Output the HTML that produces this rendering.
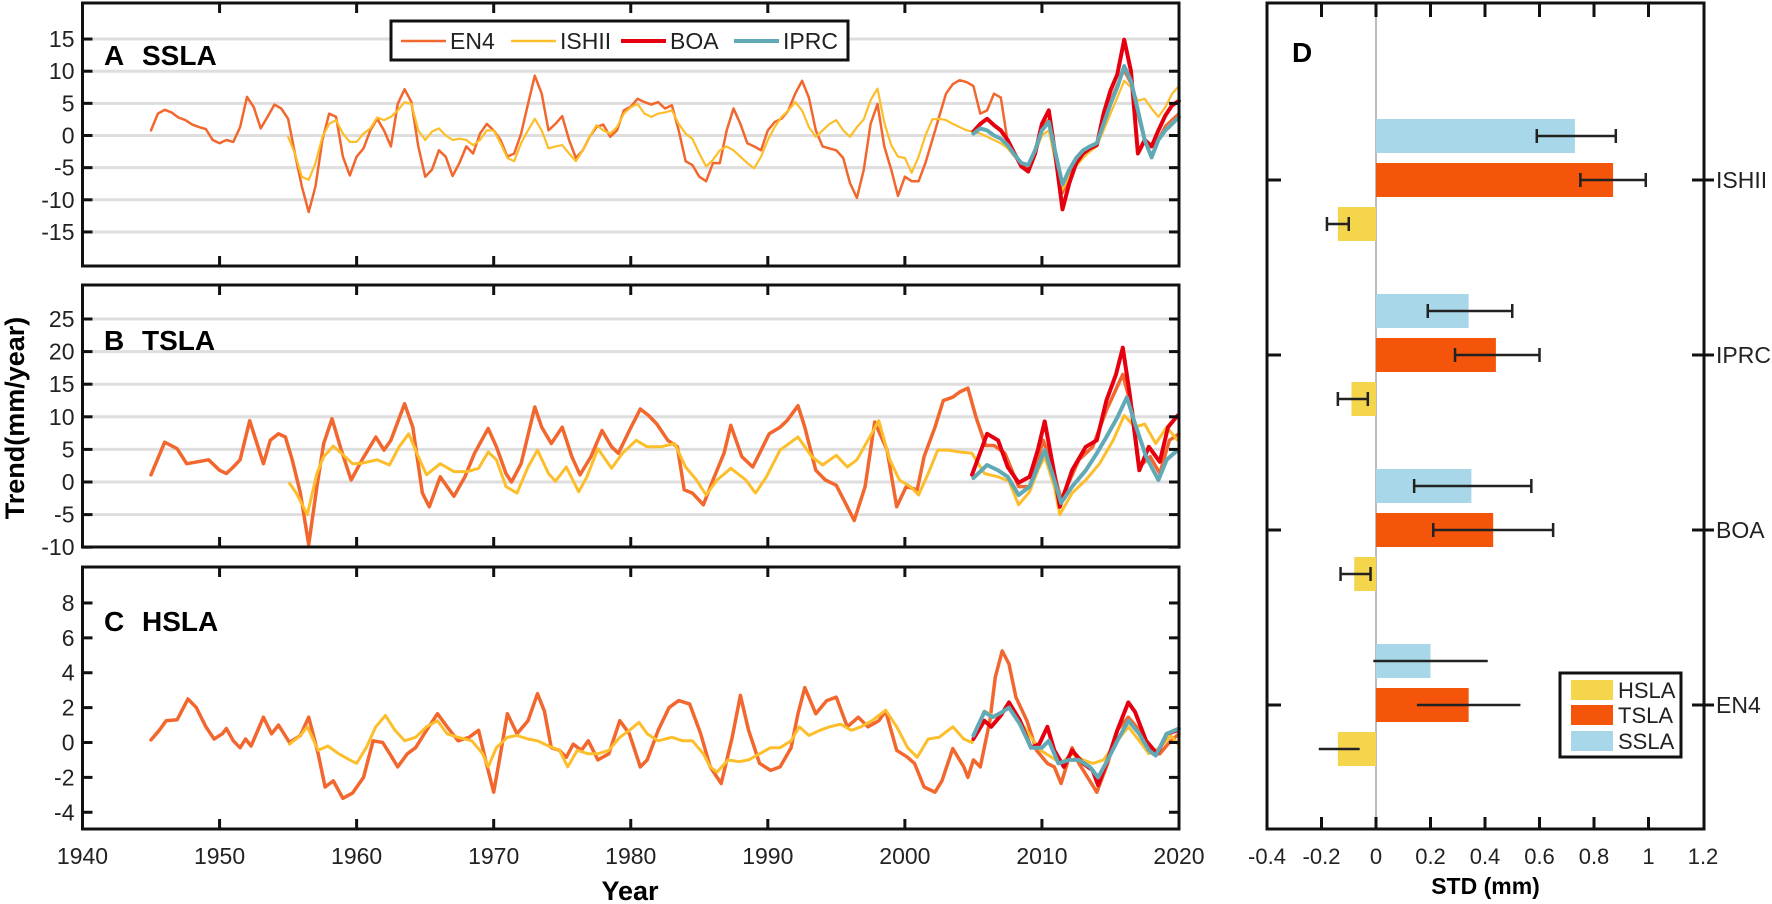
<!DOCTYPE html>
<html><head><meta charset="utf-8"><style>
html,body{margin:0;padding:0;background:#fff}
svg{display:block;font-family:"Liberation Sans",Arial,sans-serif}
</style></head><body>
<svg id="fig" width="1772" height="904" viewBox="0 0 1772 904" xmlns="http://www.w3.org/2000/svg">
<g id="grid"></g><g id="lines"></g><g id="axes"></g><g id="bars"></g>
</svg>
<script>
// ---------- Panel A (SSLA) data, half-year spacing ----------
const aEn4Start = 1945, aIshStart = 1955, aRecStart = 2005, halfStep = 0.5;
const aEN4 = [0.8,3.4,4,3.6,2.8,2.4,1.7,1.3,1,-0.7,-1.2,-0.7,-1,1.3,6,4.4,1.1,2.9,4.8,4.2,2.6,-2.8,-7.9,-11.9,-7.9,-0.7,3.4,2.9,-3.3,-6.2,-3.3,-2,0.8,2.6,0.8,-1.7,4.9,7.2,5.2,-1.7,-6.4,-5.3,-2.3,-3.3,-6.3,-4.3,-1.7,-2.8,0.3,1.8,0.8,-0.7,-3.3,-2.8,0.3,4.9,9.3,6.5,0.8,1.8,3,-0.7,-3.5,-2.3,-0.2,1.3,1.7,-0.2,0.8,3.9,4.5,5.7,5.2,4.8,5.2,4.2,4.7,0.8,-4,-4.6,-6.4,-7.1,-4.3,-4.3,0.8,4.2,1.8,-1.2,-1.7,-2.3,0.8,2.1,2.6,3.9,6.5,8.5,5.9,0.8,-1.7,-2,-2.3,-3.5,-7.4,-9.7,-5.3,1.8,4.9,-1.7,-5.3,-9.4,-6.4,-7.1,-7.1,-4.3,-0.7,2.9,6.5,8,8.6,8.3,7.7,3.4,3.9,6.5,5.9,-1,-3,-4.5,-5,-2.5,1.5,2.5,-3,-9,-6.5,-4,-2.5,-1.8,-1.2,2,5.5,8,10,8,3,-1,-3,-0.5,1.5,2.5,3.5];
const aISHII = [-0.2,-2.8,-6.4,-6.9,-4.3,-0.2,1.8,2.4,0.3,-1,-1,0.3,1.1,2.8,2.4,2.9,3.9,5.2,4.9,0.8,-0.7,0.6,1.1,0,-0.7,-0.5,-0.7,-1.5,-0.7,0.8,0.8,-1.2,-3.5,-4,-1.2,0.8,2.6,0.8,-2,-1.7,-1.5,-2.8,-4,-2.3,-0.2,1.6,0.8,0.3,1.3,3.4,4.4,4.9,3.4,2.9,3.4,3.6,3.9,1.8,0.3,-0.5,-2.8,-4.8,-3.8,-2.3,-1.7,-2.3,-3.3,-4.3,-5.1,-3.3,-0.7,1.3,2.9,3.9,5.2,3.9,1.3,-0.2,0.8,1.8,2.4,0.8,-0.2,1.3,2.5,5.5,7.3,2,-1.5,-3.3,-3.5,-5.8,-3.3,0,2.5,2.6,2.4,1.8,1.3,0.8,0.6,0.3,-0.2,-0.7,-1.2,-2,-3.3,-4.3,-4.6,-2.8,0,0.8,-4.3,-8.4,-6.4,-4.8,-3.5,-2.5,-1.7,0.8,3.4,5.9,8.5,7.5,5.4,5.7,4.2,2.9,4.4,6.5,7.7];
const aBOA = [0.6,1.8,2.6,1.6,0.8,-0.7,-2.8,-4.8,-5.6,-2.8,1.8,3.9,-3.3,-11.5,-7.4,-4.3,-2.8,-2,-1.5,3.4,7,9.5,14.9,10,-2.8,-0.7,-1.7,0.8,3.1,4.7,5.4];
const aIPRC = [0.3,1.1,0.8,0,-0.5,-1.5,-3,-4.3,-4.6,-2.3,0.8,2.1,-2.8,-7.6,-5.3,-3.5,-2.3,-1.7,-1.2,1.8,4.9,7.5,10.8,8.5,3.9,-0.7,-3.4,-0.7,0.8,1.8,2.9];

// ---------- Panel B (TSLA) data ----------
const bEN4Years = [1945.0,1946.0,1946.9,1947.6,1948.4,1949.2,1950.0,1950.5,1951.0,1951.5,1952.2,1953.2,1953.7,1954.3,1954.8,1955.3,1955.9,1956.5,1957.1,1957.6,1958.2,1958.9,1959.6,1960.4,1961.4,1962.0,1962.5,1963.5,1964.1,1964.8,1965.3,1966.1,1967.1,1967.9,1968.6,1969.6,1970.2,1970.9,1971.3,1972.0,1973.0,1973.5,1974.2,1975.0,1975.7,1976.3,1977.1,1977.9,1978.6,1979.1,1979.9,1980.7,1981.3,1981.9,1982.7,1983.4,1983.9,1984.5,1985.3,1986.0,1986.8,1987.3,1988.1,1988.9,1989.4,1990.1,1990.9,1991.4,1992.2,1992.7,1993.5,1994.2,1995.0,1995.8,1996.3,1997.1,1997.8,1998.7,1999.4,2000.1,2000.9,2001.4,2002.2,2002.8,2003.5,2004.0,2004.6,2005.2,2005.9,2006.5,2007.3,2008.3,2009.1,2010.1,2010.9,2011.4,2012.7,2013.7,2014.7,2015.9,2016.6,2017.1,2017.9,2018.6,2019.3,2020.0];
const bEN4 = [1.1,6.1,5.1,2.8,3.1,3.4,1.8,1.3,2.3,3.4,9.4,2.8,6.4,7.4,6.9,3.4,-1.7,-9.6,-0.7,5.9,9.7,4.8,0.3,3.4,6.9,4.9,6.4,12,8.4,-1.7,-3.8,0.8,-2.2,0.8,4.4,8.2,5.4,1.3,0,2.8,11.5,8.4,5.9,8.4,3.9,1.1,3.9,7.9,5.4,4.4,7.9,11.2,10.2,8.9,6.4,5.4,-1.2,-1.7,-3.5,0.3,4.4,8.7,3.9,2.3,4.4,7.4,8.4,9.4,11.7,8.4,1.8,0.3,-0.5,-3.8,-5.9,-0.7,9.2,4.9,-3.8,-0.7,-1.2,3.9,8.4,12.5,13,13.8,14.4,9.9,5.6,5.6,4.4,-0.7,-0.7,6.4,1.3,-2.7,3.4,5.4,11,16.5,11,2.3,3.9,1.3,6.4,7.4];
const bISHIIYears = [1955.1,1955.6,1956.4,1957.1,1957.6,1958.3,1958.9,1959.7,1960.4,1961.5,1962.4,1963.1,1963.8,1964.4,1965.1,1966.1,1967.1,1968.1,1968.9,1969.6,1970.2,1970.9,1971.7,1972.5,1973.2,1974.0,1974.5,1975.3,1976.2,1976.8,1977.6,1978.6,1979.4,1980.4,1981.2,1982.2,1983.2,1984.0,1984.8,1985.5,1986.3,1987.3,1988.4,1989.1,1989.9,1990.9,1992.2,1993.2,1994.0,1995.0,1995.8,1996.5,1997.3,1998.1,1998.9,1999.6,2000.4,2001.0,2001.7,2002.4,2003.2,2004.0,2004.9,2005.8,2006.8,2007.6,2008.3,2009.1,2009.7,2010.2,2010.9,2011.3,2012.2,2013.2,2014.2,2015.2,2016.0,2016.8,2017.5,2018.3,2019.1,2019.9];
const bISHII = [-0.2,-1.7,-5,1.3,3.9,5.5,4.4,2.8,2.9,3.4,2.6,5.4,7.4,4.4,1.1,2.8,1.6,1.6,2.1,4.6,3.4,-0.7,-1.7,2.3,4.9,1.3,0.1,2.3,-1.5,0.8,5.1,2.1,4.4,6.4,5.4,5.4,5.9,2.3,0.3,-2,0.3,2.1,0.3,-1.7,0.8,4.9,6.9,3.9,2.6,4.1,2.3,3.4,6.4,9.4,3.4,0.3,-0.7,-2,1.3,4.9,4.9,4.6,4.4,1.3,0.8,0.1,-3.5,-1.5,1.8,3.9,-0.7,-5,-1.7,0.3,2.8,6.4,10.2,8.4,8.9,5.9,8.4,6.4];
const bBOAYears = [2004.9,2006.0,2006.8,2007.5,2008.3,2009.1,2009.7,2010.2,2010.9,2011.3,2012.2,2013.2,2014.0,2014.7,2015.4,2015.9,2016.4,2017.1,2017.8,2018.6,2019.2,2019.9];
const bBOA = [1.1,7.4,6.4,2.3,-0.1,0.8,4.9,9.3,1.3,-3.8,1.8,5.4,6.4,12.5,16.5,20.6,13.5,1.8,5.4,3.1,8.4,10.2];
const bIPRCYears = [2005.0,2006.0,2006.8,2007.5,2008.3,2009.1,2009.7,2010.2,2010.9,2011.4,2012.2,2013.2,2014.0,2014.7,2015.5,2016.2,2016.8,2017.6,2018.5,2019.1,2019.9];
const bIPRC = [0.6,2.6,1.8,0.8,-2,-0.7,2.3,4.9,0.3,-3.2,-0.7,1.8,4.4,6.9,9.9,13,8.9,3.9,0.3,3.4,4.9];

// ---------- Panel C (HSLA) data ----------
const cEN4Years = [1945.0,1945.6,1946.1,1946.9,1947.7,1948.3,1949.0,1949.6,1950.2,1950.5,1951.0,1951.5,1951.9,1952.3,1953.2,1953.8,1954.3,1955.1,1955.9,1956.5,1957.2,1957.7,1958.3,1959.0,1959.7,1960.5,1961.2,1961.9,1962.5,1963.0,1963.7,1964.3,1965.1,1965.9,1966.6,1967.4,1968.2,1968.9,1969.4,1970.0,1970.5,1971.0,1971.7,1972.5,1973.2,1973.7,1974.2,1974.8,1975.3,1975.8,1976.4,1976.9,1977.6,1978.4,1979.2,1979.9,1980.7,1981.2,1982.0,1982.8,1983.5,1984.3,1985.1,1985.8,1986.6,1987.4,1988.0,1988.6,1989.4,1990.2,1990.9,1991.7,1992.2,1992.7,1993.5,1994.3,1995.0,1995.8,1996.6,1997.3,1998.1,1998.6,1999.4,2000.2,2000.7,2001.4,2002.2,2002.7,2003.5,2004.3,2004.6,2005.0,2005.5,2006.2,2006.6,2007.1,2007.6,2008.1,2008.9,2009.6,2010.4,2010.9,2011.4,2012.2,2012.7,2013.5,2014.0,2014.8,2015.5,2016.3,2017.1,2017.8,2018.6,2019.4,2020.0];
const cEN4 = [0.15,0.7,1.25,1.3,2.5,2.0,0.9,0.2,0.5,0.8,0.1,-0.3,0.2,-0.2,1.45,0.5,1.0,0,0.4,1.45,-0.65,-2.55,-2.2,-3.2,-2.9,-2.0,0.1,0,-0.75,-1.4,-0.65,-0.3,0.7,1.65,0.9,0.1,0.3,0.7,-1.0,-2.85,-0.65,1.65,0.5,1.25,2.8,1.8,-0.3,-0.45,-0.85,-0.1,-0.45,0.1,-1.0,-0.65,1.25,0.5,-1.4,-1.0,0.7,2.0,2.4,2.2,0.5,-1.4,-2.35,0.3,2.7,0.7,-1.2,-1.6,-1.4,-0.3,1.65,3.15,1.65,2.4,2.6,0.9,1.45,0.9,1.25,1.8,-0.45,-0.85,-1.2,-2.55,-2.85,-2.2,-0.35,-1.4,-2.0,-1.0,-1.4,1.25,3.75,5.25,4.5,2.6,1.25,-0.45,-1.2,-1.4,-2.35,-0.3,-1.2,-2.2,-2.85,-1.2,0.7,1.45,0.7,-0.45,-0.65,0.1,0.5];
const cISHIIYears = [1955.1,1955.9,1956.4,1957.2,1957.9,1958.7,1959.5,1960.0,1960.7,1961.4,1962.1,1962.8,1963.5,1964.3,1965.1,1965.9,1966.6,1967.4,1968.4,1969.2,1969.6,1970.2,1971.0,1971.7,1972.5,1973.2,1974.0,1974.8,1975.4,1976.1,1976.9,1977.6,1978.4,1979.2,1979.9,1980.6,1981.2,1982.0,1983.0,1983.8,1984.5,1985.3,1985.8,1986.3,1987.1,1987.9,1988.6,1989.4,1990.2,1990.9,1991.7,1992.3,1993.0,1993.8,1994.5,1995.3,1996.1,1996.8,1997.6,1998.6,1999.4,2000.2,2000.9,2001.7,2002.5,2003.5,2004.3,2004.9,2005.8,2006.6,2007.6,2008.4,2009.2,2009.9,2010.7,2011.4,2012.2,2013.0,2013.7,2014.5,2015.5,2016.3,2017.1,2017.8,2018.6,2019.4,2020.0];
const cISHII = [-0.1,0.4,0.9,-0.45,-0.2,-0.65,-1.0,-1.2,-0.3,0.9,1.55,0.7,0.1,0.3,0.9,1.25,0.5,0.3,0.1,-0.65,-1.4,-0.3,0.3,0.4,0.2,0.1,-0.2,-0.45,-1.4,-0.45,-0.65,-0.65,-0.45,0.3,0.7,1.15,0.5,0.1,0.3,0.1,0.1,-0.65,-1.4,-1.7,-1.0,-1.1,-1.0,-0.65,-0.3,-0.3,0.1,0.9,0.4,0.7,0.9,1.05,0.7,0.9,1.25,1.85,0.9,-0.3,-0.85,0.2,0.3,0.9,0.2,0,1.8,1.45,2.0,1.25,0.3,-0.45,-0.85,-1.2,-0.65,-1.0,-1.2,-1.0,0.1,0.9,0.1,-0.65,-0.3,0.4,-0.15];
const cBOAYears = [2005.0,2005.8,2006.3,2007.0,2007.6,2008.4,2009.2,2009.8,2010.4,2010.9,2011.6,2012.2,2013.0,2013.7,2014.1,2014.8,2015.5,2016.3,2016.8,2017.6,2018.4,2019.1,2019.9];
const cBOA = [0.2,1.25,0.9,1.55,2.3,1.25,-0.3,-0.1,0.9,-0.45,-1.4,-0.45,-1.2,-1.6,-2.45,-1.0,0.7,2.3,1.75,0.1,-0.65,0.5,0.7];
const cIPRCYears = [2005.0,2005.8,2006.4,2007.1,2007.6,2008.4,2009.2,2010.0,2010.5,2011.2,2012.0,2012.7,2013.5,2014.1,2014.8,2015.5,2016.3,2017.1,2017.8,2018.3,2019.1,2020.0];
const cIPRC = [0.4,1.75,1.45,1.75,2.0,1.05,-0.3,-0.3,0.1,-1.2,-1.0,-1.0,-1.4,-2.0,-1.0,0.1,1.25,0.5,-0.45,-0.75,0.5,0.8];

// ---------- Panel D data ----------
const dCategories = ['ISHII','IPRC','BOA','EN4'];
const dSSLA = [0.73,0.34,0.35,0.20];
const dSSLAlo = [0.59,0.19,0.14,-0.01];
const dSSLAhi = [0.88,0.50,0.57,0.41];
const dTSLA = [0.87,0.44,0.43,0.34];
const dTSLAlo = [0.75,0.29,0.21,0.15];
const dTSLAhi = [0.99,0.60,0.65,0.53];
const dHSLA = [-0.14,-0.09,-0.08,-0.14];
const dHSLAlo = [-0.18,-0.14,-0.13,-0.21];
const dHSLAhi = [-0.10,-0.03,-0.02,-0.06];
const dTicks = [-0.4,-0.2,0,0.2,0.4,0.6,0.8,1,1.2];
const dTickLabels = ['-0.4','-0.2','0','0.2','0.4','0.6','0.8','1','1.2'];
const yearTicks = [1940,1950,1960,1970,1980,1990,2000,2010,2020];

const NS='http://www.w3.org/2000/svg';
function mk(tag, attrs, parent){const e=document.createElementNS(NS,tag);for(const k in attrs)e.setAttribute(k,attrs[k]);(parent||document.getElementById('axes')).appendChild(e);return e;}
const X0=82.5, X1=1179;
const xYear = y => X0 + (y-1940)*(X1-X0)/80;
const panels = {
  A:{top:3,bottom:266,y0:135.5,k:6.43,ticks:[15,10,5,0,-5,-10,-15],grid:true,label:'A',title:'SSLA',ly:55},
  B:{top:285,bottom:547,y0:482,k:6.52,ticks:[25,20,15,10,5,0,-5,-10],grid:true,label:'B',title:'TSLA',ly:340},
  C:{top:567,bottom:829,y0:742.5,k:17.44,ticks:[8,6,4,2,0,-2,-4],grid:false,label:'C',title:'HSLA',ly:621}
};
const COL={EN4:'#F2672E',ISHII:'#FDBE2C',BOA:'#E6000F',IPRC:'#62A9B6'};
const grid=document.getElementById('grid'), lines=document.getElementById('lines'), axes=document.getElementById('axes'), bars=document.getElementById('bars');

for(const key in panels){
  const p=panels[key]; const yv=v=>p.y0-v*p.k;
  if(p.grid){ p.ticks.forEach(t=>{ const yy=yv(t); if(yy>p.top+3&&yy<p.bottom-3){ const g=mk('line',{x1:X0,x2:X1,y1:yy,y2:yy,stroke:'#dedede','stroke-width':3},grid);
    
     } }); }
  const fr=mk('rect',{x:X0,y:p.top,width:X1-X0,height:p.bottom-p.top,fill:'none',stroke:'#111','stroke-width':3});
  
  
  p.ticks.forEach(t=>{ const yy=yv(t);
    mk('line',{x1:X0,x2:X0+10,y1:yy,y2:yy,stroke:'#111','stroke-width':3});
    mk('line',{x1:X1-10,x2:X1,y1:yy,y2:yy,stroke:'#111','stroke-width':3});
    const tl=mk('text',{x:X0-8,y:yy+8,'text-anchor':'end','font-size':23,fill:'#222'}); tl.textContent=t;
    
    
  });
  yearTicks.forEach(yr=>{ const xx=xYear(yr); if(yr===1940||yr===2020) return;
    mk('line',{x1:xx,x2:xx,y1:p.bottom-10,y2:p.bottom,stroke:'#111','stroke-width':3});
    mk('line',{x1:xx,x2:xx,y1:p.top,y2:p.top+10,stroke:'#111','stroke-width':3});
  });
  const lab=mk('text',{x:104,y:p.ly+10,'font-size':28,'font-weight':'bold',fill:'#000'}); lab.textContent=p.label;
  
  
  const tt=mk('text',{x:142,y:p.ly+10,'font-size':28,'font-weight':'bold',fill:'#000'}); tt.textContent=p.title;
  
  
}
function seriesLine(panel, years, vals, color, w, name){
  const p=panels[panel];
  const pts=vals.map((v,i)=>xYear(years[i]).toFixed(1)+','+(p.y0-v*p.k).toFixed(1)).join(' ');
  const pl=mk('polyline',{points:pts,fill:'none',stroke:color,'stroke-width':w,'stroke-linejoin':'round','stroke-linecap':'round'},lines);
  
  
}
const gridYears=(start,n)=>Array.from({length:n},(_,i)=>start+i*halfStep);
seriesLine('A',gridYears(aEn4Start,aEN4.length),aEN4,COL.EN4,2.5,'line-ssla-en4');
seriesLine('A',gridYears(aIshStart,aISHII.length),aISHII,COL.ISHII,2.2,'line-ssla-ishii');
seriesLine('A',gridYears(aRecStart,aBOA.length),aBOA,COL.BOA,4,'line-ssla-boa');
seriesLine('A',gridYears(aRecStart,aIPRC.length),aIPRC,COL.IPRC,4,'line-ssla-iprc');
seriesLine('B',bEN4Years,bEN4,COL.EN4,3.5,'line-tsla-en4');
seriesLine('B',bISHIIYears,bISHII,COL.ISHII,3,'line-tsla-ishii');
seriesLine('B',bBOAYears,bBOA,COL.BOA,4,'line-tsla-boa');
seriesLine('B',bIPRCYears,bIPRC,COL.IPRC,4,'line-tsla-iprc');
seriesLine('C',cEN4Years,cEN4,COL.EN4,3.5,'line-hsla-en4');
seriesLine('C',cISHIIYears,cISHII,COL.ISHII,3,'line-hsla-ishii');
seriesLine('C',cBOAYears,cBOA,COL.BOA,4,'line-hsla-boa');
seriesLine('C',cIPRCYears,cIPRC,COL.IPRC,4,'line-hsla-iprc');

yearTicks.forEach(yr=>{ const t=mk('text',{x:xYear(yr),y:864,'text-anchor':'middle','font-size':23,fill:'#222'}); t.textContent=yr;
  
   });
const xt=mk('text',{x:630,y:900,'text-anchor':'middle','font-size':27,'font-weight':'bold'}); xt.textContent='Year';


const yt=mk('text',{x:0,y:0,'text-anchor':'middle','font-size':27,'font-weight':'bold',transform:'translate(24,418) rotate(-90)'}); yt.textContent='Trend(mm/year)';



// legend A
const lg=mk('g',{});


mk('rect',{x:391,y:21,width:457,height:39,fill:'#fff',stroke:'#111','stroke-width':3},lg);
[['EN4',401,COL.EN4,2.5],['ISHII',511,COL.ISHII,2.5],['BOA',621,COL.BOA,4],['IPRC',734,COL.IPRC,4]].forEach(e=>{
  const ge=mk('g',{},lg);
  
  
  mk('line',{x1:e[1],x2:e[1]+45,y1:41,y2:41,stroke:e[2],'stroke-width':e[3]},ge);
  const t=mk('text',{x:e[1]+49,y:49,'font-size':23,fill:'#222'},ge); t.textContent=e[0];
});

// ---------- Panel D ----------
const DL=1267, DR=1704, DT=3, DB=829;
const xD=v=>1376+v*272.5;
const catY=i=>180+i*175;
const zl=mk('line',{x1:xD(0),x2:xD(0),y1:DT,y2:DB,stroke:'#777','stroke-width':1},bars);


const groups=[['ssla',dSSLA,dSSLAlo,dSSLAhi,'#A7D7E8',-44],['tsla',dTSLA,dTSLAlo,dTSLAhi,'#F4550B',0],['hsla',dHSLA,dHSLAlo,dHSLAhi,'#F4D54C',44]];
dCategories.forEach((c,i)=>{
  groups.forEach(g=>{
    const v=g[1][i], yc=catY(i)+g[5];
    const r=mk('rect',{x:Math.min(xD(0),xD(v)),y:yc-17,width:Math.abs(xD(v)-xD(0)),height:34,fill:g[4]},bars);
    
    
    const e=mk('line',{x1:xD(g[2][i]),x2:xD(g[3][i]),y1:yc,y2:yc,stroke:'#222','stroke-width':2.5},bars);
    
    
    if(i<3){ [g[2][i],g[3][i]].forEach(ev=>mk('line',{x1:xD(ev),x2:xD(ev),y1:yc-7,y2:yc+7,stroke:'#222','stroke-width':2.5},bars)); }
  });
  mk('line',{x1:DL,x2:DL+14,y1:catY(i),y2:catY(i),stroke:'#111','stroke-width':3},bars);
  mk('line',{x1:DR-12,x2:DR+10,y1:catY(i),y2:catY(i),stroke:'#111','stroke-width':3},bars);
  const t=mk('text',{x:DR+12,y:catY(i)+8,'font-size':23,fill:'#222'},bars); t.textContent=c;
  
  
});
const df=mk('rect',{x:DL,y:DT,width:DR-DL,height:DB-DT,fill:'none',stroke:'#111','stroke-width':3},bars);


dTicks.forEach((t,i)=>{ const xx=xD(t);
  if(i>0&&i<dTicks.length-1){ mk('line',{x1:xx,x2:xx,y1:DB-12,y2:DB,stroke:'#111','stroke-width':3},bars);
    mk('line',{x1:xx,x2:xx,y1:DT,y2:DT+14,stroke:'#111','stroke-width':3},bars); }
  const tl=mk('text',{x:xx,y:864,'text-anchor':'middle','font-size':22,fill:'#222'},bars); tl.textContent=dTickLabels[i];
  
  
});
const dx=mk('text',{x:(DL+DR)/2,y:894,'text-anchor':'middle','font-size':23,'font-weight':'bold'},bars); dx.textContent='STD (mm)';


const dlab=mk('text',{x:1292,y:62,'font-size':28,'font-weight':'bold'},bars); dlab.textContent='D';


const lgd=mk('g',{},bars);


mk('rect',{x:1560,y:673,width:121,height:84,fill:'#fff',stroke:'#111','stroke-width':3},lgd);
[['HSLA','#F4D54C',690],['TSLA','#F4550B',715],['SSLA','#A7D7E8',741]].forEach(e=>{
  const ge=mk('g',{},lgd);
  
  
  mk('rect',{x:1571,y:e[2]-10,width:42,height:20,fill:e[1]},ge);
  const t=mk('text',{x:1618,y:e[2]+8,'font-size':22,fill:'#222'},ge); t.textContent=e[0];
});
</script>
</body></html>
